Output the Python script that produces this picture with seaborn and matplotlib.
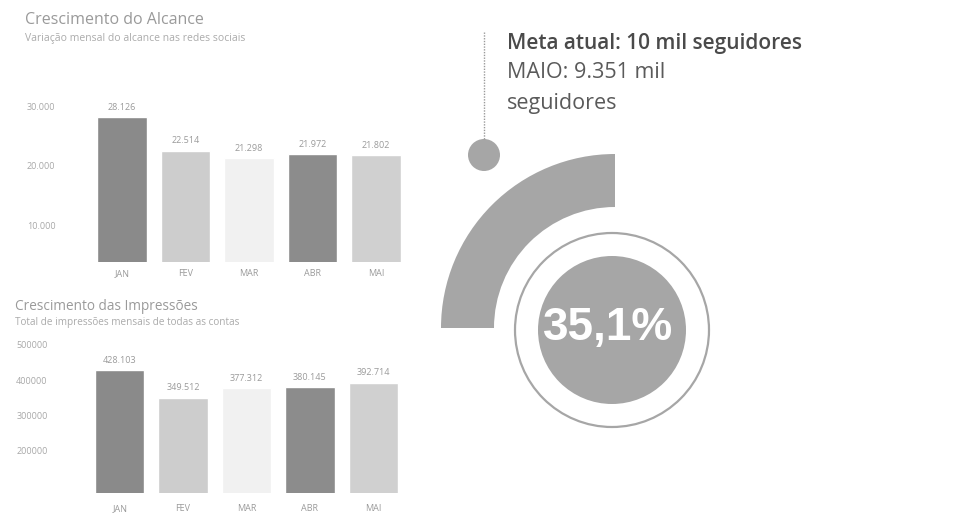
import matplotlib
matplotlib.use("Agg")
import matplotlib.pyplot as plt
from matplotlib.patches import Wedge, Circle
import seaborn as sns
import pandas as pd

# ---- data ----
meses = ["JAN", "FEV", "MAR", "ABR", "MAI"]
alcance = [28126, 22514, 21298, 21972, 21802]
impressoes = [428103, 349512, 377312, 380145, 392714]
alcance_ticks = [10000, 20000, 30000]
impressoes_ticks = [200000, 300000, 400000, 500000]
cores_barras = ["#8a8a8a", "#cdcdcd", "#f1f1f1", "#8c8c8c", "#d0d0d0"]

meta_texto = "Meta atual: 10 mil seguidores"
maio_texto = ["MAIO: 9.351 mil", "seguidores"]
percentual = "35,1%"

sns.set_theme(style="white")
plt.rcParams["font.family"] = ["Open Sans", "DejaVu Sans"]

W, H = 971, 515
fig = plt.figure(figsize=(W / 100, H / 100), dpi=100)
fig.patch.set_facecolor("white")


def fmt_br(v):
    return f"{v:,.0f}".replace(",", ".")


def bar_panel(rect, valores, ticks, ylim, tick_fmt, ypad, xpad):
    ax = fig.add_axes(rect)
    df = pd.DataFrame({"mes": meses, "valor": valores})
    sns.barplot(data=df, x="mes", y="valor", hue="mes", palette=cores_barras,
                legend=False, width=0.78, ax=ax, saturation=1)
    ax.set_ylim(*ylim)
    ax.set_xlim(-0.5, len(meses) - 0.5)
    ax.set_yticks(ticks)
    ax.set_yticklabels([tick_fmt(t) for t in ticks])
    ax.set_xlabel("")
    ax.set_ylabel("")
    ax.tick_params(axis="y", length=0, pad=ypad, labelsize=6.5, labelcolor="#a8a8a8")
    ax.tick_params(axis="x", length=0, pad=xpad, labelsize=6.5, labelcolor="#9a9a9a")
    # value labels above each bar
    for bar in ax.patches:
        h = bar.get_height()
        ax.annotate(fmt_br(h), xy=(bar.get_x() + bar.get_width() / 2, h),
                    xytext=(0, 4), textcoords="offset points",
                    ha="center", va="bottom", fontsize=6.5, color="#9a9a9a")
    sns.despine(ax=ax, left=True, bottom=True)
    ax.set_facecolor("none")
    return ax


# reach panel
bar_panel([90 / W, 1 - 262 / H, 318 / W, (262 - 95) / H], alcance, alcance_ticks,
          (3830, 31900), fmt_br, 25, 5)
# impressions panel
bar_panel([88 / W, 1 - 493 / H, 317 / W, (493 - 340) / H], impressoes, impressoes_ticks,
          (80000, 513600), lambda t: f"{t:d}", 29, 8)

# panel titles
fig.text(25 / W, 1 - 20 / H, "Crescimento do Alcance", fontsize=11.5,
         color="#9a9a9a", va="center", ha="left")
fig.text(25 / W, 1 - 39 / H, "Variação mensal do alcance nas redes sociais",
         fontsize=7.5, color="#ababab", va="center", ha="left")
fig.text(15 / W, 1 - 307 / H, "Crescimento das Impressões", fontsize=9.8,
         color="#9a9a9a", va="center", ha="left")
fig.text(15 / W, 1 - 323 / H, "Total de impressões mensais de todas as contas",
         fontsize=7.2, color="#ababab", va="center", ha="left")

# gauge overlay, pixel coordinates
g = fig.add_axes([0, 0, 1, 1])
g.set_xlim(0, W)
g.set_ylim(0, H)
g.axis("off")
g.set_facecolor("none")

cinza = "#a6a6a6"
g.add_patch(Wedge((615, H - 328), 174, 90, 180, width=53, color=cinza, lw=0))
g.add_patch(Circle((612, H - 330), 97, fill=False, ec=cinza, lw=1.6))
g.add_patch(Circle((612, H - 330), 74, color=cinza, lw=0))
g.add_patch(Circle((484, H - 155), 16, color=cinza, lw=0))
g.plot([484, 484], [H - 32, H - 139], color="#9a9a9a", lw=1, ls=(0, (1, 1)))

g.text(608, H - 328, percentual, fontsize=33, fontweight="bold", color="white",
       ha="center", va="center", family=["Liberation Sans", "DejaVu Sans"])

g.text(507, H - 43, meta_texto, fontsize=15, fontweight="semibold",
       color="#4a4a4a", ha="left", va="center")
g.text(507, H - 73, maio_texto[0], fontsize=15.5, color="#5a5a5a",
       ha="left", va="center")
g.text(507, H - 103, maio_texto[1], fontsize=15.5, color="#5a5a5a",
       ha="left", va="center")

fig.savefig("out.png", dpi=100, facecolor="white")
